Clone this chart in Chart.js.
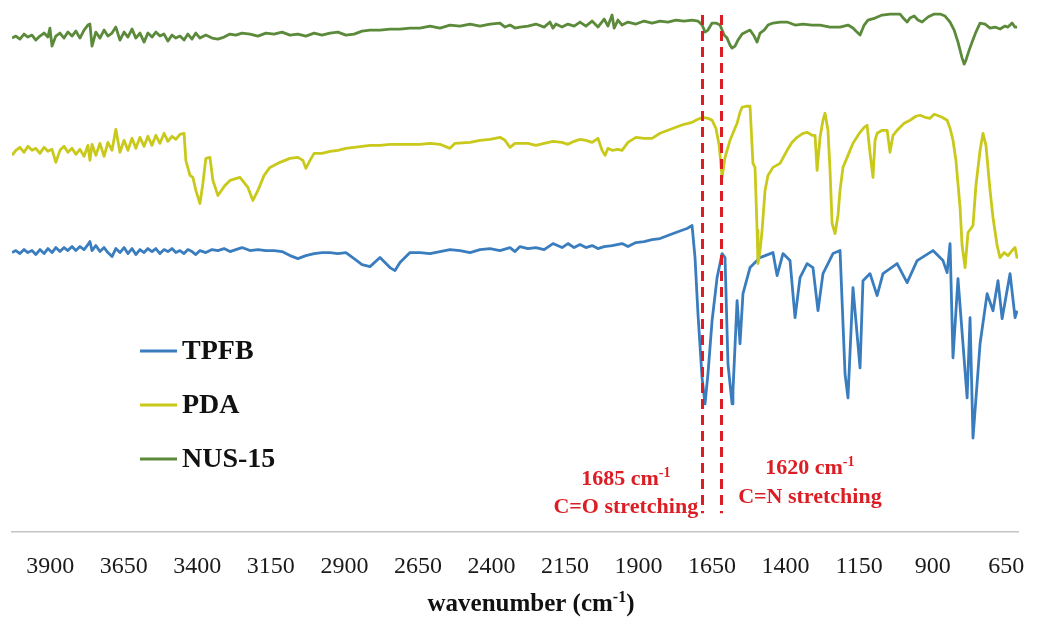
<!DOCTYPE html>
<html>
<head>
<meta charset="utf-8">
<title>FTIR spectra</title>
<script src="https://cdn.jsdelivr.net/npm/chart.js@4.4.1/dist/chart.umd.min.js"></script>
<style>
    html, body { margin: 0; padding: 0; background: #ffffff; }
    #wrap { width: 1038px; height: 619px; position: relative; }
</style>
</head>
<body>
<div id="wrap"><canvas id="espectro"></canvas></div>
<script>
// x ticks shown under the axis (cm-1)
const xTicks = [3900, 3650, 3400, 3150, 2900, 2650, 2400, 2150, 1900, 1650, 1400, 1150, 900, 650];

// TPFB, offset transmittance (a.u.)
const tpfbWavenumber = [4030, 4017, 4003, 3989, 3976, 3962, 3949, 3935, 3921, 3908, 3894, 3881, 3867, 3853, 3840, 3826, 3813, 3799, 3785, 3772, 3765, 3758, 3745, 3731, 3717, 3704, 3690, 3677, 3663, 3649, 3636, 3622, 3609, 3595, 3581, 3568, 3554, 3541, 3527, 3513, 3500, 3486, 3473, 3459, 3445, 3432, 3418, 3405, 3391, 3371, 3350, 3330, 3309, 3289, 3269, 3248, 3221, 3194, 3167, 3139, 3112, 3085, 3058, 3031, 3003, 2976, 2949, 2922, 2895, 2867, 2840, 2813, 2779, 2745, 2728, 2711, 2677, 2643, 2609, 2575, 2541, 2507, 2473, 2439, 2405, 2371, 2337, 2320, 2303, 2276, 2249, 2221, 2191, 2160, 2140, 2119, 2099, 2079, 2058, 2038, 2017, 1990, 1956, 1936, 1909, 1881, 1854, 1827, 1800, 1773, 1745, 1735, 1718, 1708, 1698, 1684, 1674, 1664, 1650, 1633, 1616, 1606, 1596, 1582, 1579, 1565, 1555, 1545, 1521, 1487, 1443, 1429, 1409, 1385, 1368, 1351, 1327, 1307, 1290, 1273, 1239, 1215, 1198, 1188, 1171, 1147, 1137, 1113, 1089, 1069, 1021, 987, 953, 899, 865, 851, 841, 831, 814, 783, 773, 763, 739, 715, 695, 678, 664, 637, 620, 613];
const tpfbSignal = [279, 281, 278, 282, 279, 281, 277, 282, 278, 283, 279, 284, 280, 284, 281, 285, 281, 285, 282, 287, 290, 281, 286, 280, 284, 279, 275, 283, 279, 284, 278, 283, 277, 282, 279, 283, 280, 283, 278, 282, 280, 283, 279, 281, 278, 282, 280, 277, 281, 279, 282, 281, 283, 280, 282, 284, 281, 282, 281, 281, 280, 276, 273, 276, 278, 279, 279, 278, 279, 273, 267, 265, 274, 264, 261, 269, 279, 279, 278, 280, 282, 281, 279, 282, 283, 281, 284, 280, 285, 283, 284, 282, 288, 284, 288, 284, 287, 284, 286, 283, 285, 286, 288, 285, 289, 290, 292, 293, 296, 299, 302, 303, 306, 274, 218, 154, 128, 158, 211, 254, 278, 274, 168, 128, 141, 231, 188, 238, 264, 274, 279, 256, 278, 271, 214, 254, 268, 264, 221, 258, 278, 281, 158, 134, 244, 164, 251, 258, 236, 258, 268, 249, 271, 281, 271, 259, 288, 174, 253, 134, 214, 94, 188, 238, 221, 251, 213, 258, 214, 221];

// PDA
const pdaWavenumber = [4030, 4017, 4003, 3989, 3976, 3962, 3949, 3935, 3921, 3908, 3894, 3881, 3867, 3853, 3840, 3826, 3813, 3799, 3785, 3772, 3765, 3758, 3745, 3731, 3717, 3704, 3690, 3677, 3663, 3649, 3636, 3622, 3609, 3595, 3581, 3568, 3554, 3541, 3527, 3513, 3500, 3486, 3473, 3459, 3445, 3439, 3425, 3415, 3405, 3391, 3381, 3371, 3357, 3347, 3330, 3306, 3289, 3255, 3228, 3211, 3194, 3173, 3153, 3119, 3085, 3058, 3041, 3031, 3017, 3003, 2976, 2949, 2922, 2895, 2867, 2840, 2813, 2779, 2745, 2711, 2643, 2609, 2575, 2541, 2524, 2473, 2439, 2405, 2371, 2354, 2337, 2320, 2276, 2249, 2221, 2191, 2160, 2140, 2119, 2099, 2079, 2058, 2038, 2024, 2014, 2004, 1990, 1970, 1956, 1936, 1909, 1881, 1854, 1827, 1800, 1773, 1745, 1718, 1698, 1681, 1664, 1650, 1637, 1626, 1616, 1606, 1589, 1575, 1565, 1555, 1548, 1535, 1521, 1511, 1504, 1497, 1494, 1487, 1480, 1470, 1460, 1443, 1419, 1395, 1378, 1361, 1341, 1327, 1310, 1300, 1293, 1283, 1273, 1266, 1256, 1249, 1242, 1232, 1222, 1215, 1205, 1188, 1171, 1147, 1133, 1123, 1113, 1103, 1096, 1089, 1072, 1055, 1045, 1035, 1021, 997, 977, 957, 943, 926, 909, 895, 885, 868, 851, 841, 831, 821, 807, 800, 790, 780, 770, 763, 753, 739, 729, 719, 705, 695, 681, 671, 657, 644, 630, 620, 613];
const pdaSignal = [376, 381, 384, 379, 385, 381, 383, 378, 384, 380, 382, 369, 381, 385, 379, 383, 377, 382, 375, 386, 371, 387, 376, 388, 375, 389, 381, 402, 379, 391, 381, 393, 383, 394, 385, 395, 386, 396, 388, 398, 390, 395, 392, 397, 398, 371, 356, 354, 341, 328, 348, 373, 374, 351, 336, 346, 351, 354, 344, 331, 341, 356, 364, 369, 373, 374, 371, 363, 371, 378, 378, 380, 381, 383, 384, 385, 386, 386, 387, 387, 387, 388, 387, 383, 388, 389, 391, 392, 394, 391, 384, 388, 388, 386, 388, 390, 389, 387, 390, 392, 391, 389, 393, 381, 376, 383, 381, 382, 381, 389, 394, 393, 393, 398, 401, 404, 407, 409, 412, 414, 413, 411, 403, 386, 354, 374, 391, 401, 408, 419, 424, 425, 425, 368, 364, 301, 268, 281, 301, 341, 356, 364, 368, 381, 389, 394, 398, 399, 396, 396, 361, 394, 411, 418, 401, 361, 308, 298, 316, 341, 364, 376, 388, 399, 404, 406, 378, 354, 391, 398, 401, 401, 379, 396, 401, 408, 411, 415, 416, 414, 413, 417, 416, 414, 411, 403, 391, 371, 324, 286, 264, 299, 303, 306, 346, 381, 398, 386, 341, 314, 286, 274, 279, 276, 281, 284, 273];

// NUS-15
const nusWavenumber = [4030, 4017, 4003, 3989, 3976, 3962, 3949, 3935, 3921, 3908, 3901, 3894, 3881, 3867, 3853, 3840, 3826, 3813, 3799, 3785, 3772, 3765, 3758, 3745, 3731, 3717, 3704, 3690, 3677, 3663, 3649, 3636, 3622, 3609, 3595, 3581, 3568, 3554, 3541, 3527, 3513, 3500, 3486, 3473, 3459, 3445, 3432, 3418, 3405, 3391, 3371, 3350, 3330, 3309, 3289, 3269, 3248, 3221, 3194, 3167, 3139, 3112, 3085, 3058, 3031, 3003, 2976, 2949, 2922, 2895, 2867, 2840, 2813, 2779, 2745, 2711, 2677, 2643, 2609, 2575, 2541, 2507, 2473, 2439, 2405, 2371, 2354, 2337, 2320, 2303, 2276, 2249, 2221, 2201, 2191, 2181, 2160, 2140, 2119, 2099, 2079, 2058, 2038, 2017, 2004, 1990, 1983, 1970, 1956, 1936, 1909, 1881, 1854, 1827, 1800, 1773, 1745, 1718, 1698, 1684, 1674, 1664, 1650, 1637, 1623, 1609, 1599, 1589, 1582, 1572, 1562, 1548, 1535, 1521, 1507, 1497, 1487, 1473, 1460, 1443, 1419, 1395, 1368, 1341, 1310, 1283, 1249, 1215, 1188, 1171, 1161, 1147, 1133, 1120, 1096, 1072, 1045, 1025, 1011, 997, 987, 977, 963, 950, 936, 916, 895, 875, 858, 841, 827, 814, 800, 793, 787, 776, 766, 753, 739, 722, 705, 688, 671, 654, 644, 630, 620, 613];
const nusSignal = [493, 495, 492, 497, 494, 496, 491, 495, 498, 494, 503, 485, 495, 498, 493, 499, 495, 500, 493, 501, 506, 507, 485, 499, 493, 501, 495, 498, 504, 491, 499, 494, 502, 493, 498, 489, 498, 494, 499, 495, 497, 490, 496, 493, 495, 491, 497, 492, 498, 493, 496, 493, 492, 494, 497, 496, 498, 497, 495, 498, 497, 499, 496, 497, 495, 498, 496, 498, 499, 496, 497, 500, 501, 501, 502, 502, 503, 503, 505, 503, 506, 505, 507, 505, 507, 508, 504, 506, 503, 504, 505, 507, 504, 509, 503, 507, 504, 507, 505, 509, 505, 510, 504, 512, 505, 516, 503, 511, 506, 509, 507, 510, 508, 510, 509, 511, 510, 511, 510, 506, 499, 501, 508, 508, 506, 496, 493, 486, 483, 485, 491, 497, 499, 501, 495, 489, 498, 501, 506, 508, 509, 509, 506, 507, 506, 506, 504, 504, 506, 503, 500, 496, 506, 511, 513, 516, 517, 517, 517, 512, 509, 513, 515, 511, 509, 514, 517, 517, 515, 509, 501, 489, 473, 467, 471, 481, 489, 499, 508, 507, 503, 504, 502, 505, 504, 508, 504, 504];

// marked bands
const bandWavenumbers = [1685, 1620];
const bandNotes = ['C=O stretching', 'C=N stretching'];

const corTpfb = '#3a7dbf';
const corPda = '#c9c91c';
const corNus = '#5a8a3a';
const corBanda = '#dc1e24';
const fonteSerif = '"Liberation Serif", "Times New Roman", serif';

function montarPontos(listaX, listaY) {
    return listaX.map((x, i) => ({ x: x, y: listaY[i] }));
}

// draws a string with an optional raised part, e.g. "cm" + "-1"
function textoComExpoente(ctx, partes, x, y, tamanho, alinhamento) {
    const fonteBase = 'bold ' + tamanho + 'px ' + fonteSerif;
    const fonteSup = 'bold ' + Math.round(tamanho * 0.62) + 'px ' + fonteSerif;
    let largura = 0;
    partes.forEach((p) => {
        ctx.font = p.sup ? fonteSup : fonteBase;
        largura += ctx.measureText(p.texto).width;
    });
    let cursor = x;
    if (alinhamento === 'center') cursor = x - largura / 2;
    if (alinhamento === 'right') cursor = x - largura;
    ctx.textAlign = 'left';
    ctx.textBaseline = 'alphabetic';
    partes.forEach((p) => {
        ctx.font = p.sup ? fonteSup : fonteBase;
        ctx.fillText(p.texto, cursor, p.sup ? y - tamanho * 0.38 : y);
        cursor += ctx.measureText(p.texto).width;
    });
}

const pluginBandas = {
    id: 'bandas',
    afterDatasetsDraw(chart, args, opts) {
        const ctx = chart.ctx;
        const escalaX = chart.scales.x;
        const escalaY = chart.scales.y;
        const topo = escalaY.getPixelForValue(opts.yTop);
        const base = escalaY.getPixelForValue(opts.yBottom);
        ctx.save();
        ctx.strokeStyle = corBanda;
        ctx.fillStyle = corBanda;
        ctx.lineWidth = 3;
        ctx.setLineDash([10, 6]);
        bandWavenumbers.forEach((w) => {
            const px = Math.round(escalaX.getPixelForValue(w)) + 0.5;
            ctx.beginPath();
            ctx.moveTo(px, topo);
            ctx.lineTo(px, base);
            ctx.stroke();
        });
        ctx.setLineDash([]);
        bandWavenumbers.forEach((w, i) => {
            const px = escalaX.getPixelForValue(w);
            const rotulo = opts.labels[i];
            const cx = px + rotulo.dx;
            textoComExpoente(ctx, [{ texto: w + ' cm' }, { texto: '-1', sup: true }], cx, rotulo.y1, 22, 'center');
            textoComExpoente(ctx, [{ texto: bandNotes[i] }], cx, rotulo.y2, 22, 'center');
        });
        ctx.restore();
    }
};

const pluginLegenda = {
    id: 'legendaLateral',
    afterDraw(chart, args, opts) {
        const ctx = chart.ctx;
        ctx.save();
        chart.data.datasets.forEach((ds, i) => {
            const y = opts.y0 + i * opts.gap;
            ctx.strokeStyle = ds.borderColor;
            ctx.lineWidth = 3;
            ctx.beginPath();
            ctx.moveTo(opts.x, y);
            ctx.lineTo(opts.x + 37, y);
            ctx.stroke();
            ctx.fillStyle = '#111111';
            ctx.font = 'bold 28px ' + fonteSerif;
            ctx.textAlign = 'left';
            ctx.textBaseline = 'middle';
            ctx.fillText(ds.label, opts.x + 42, y + 1);
        });
        ctx.restore();
    }
};

const pluginTituloX = {
    id: 'tituloX',
    afterDraw(chart, args, opts) {
        const ctx = chart.ctx;
        ctx.save();
        ctx.fillStyle = '#111111';
        textoComExpoente(ctx, [{ texto: 'wavenumber (cm' }, { texto: '-1', sup: true }, { texto: ')' }], opts.x, opts.y, 25, 'center');
        ctx.restore();
    }
};

const canvas = document.getElementById('espectro');
const contexto = canvas.getContext('2d');

new Chart(contexto, {
    type: 'line',
    data: {
        datasets: [
            {
                label: 'TPFB',
                data: montarPontos(tpfbWavenumber, tpfbSignal),
                borderColor: corTpfb,
                borderWidth: 2.8,
                order: 3
            },
            {
                label: 'PDA',
                data: montarPontos(pdaWavenumber, pdaSignal),
                borderColor: corPda,
                borderWidth: 2.8,
                order: 2
            },
            {
                label: 'NUS-15',
                data: montarPontos(nusWavenumber, nusSignal),
                borderColor: corNus,
                borderWidth: 2.8,
                order: 1
            }
        ]
    },
    options: {
        responsive: true,
        maintainAspectRatio: false,
        animation: false,
        layout: {
            padding: { left: 12, right: 20, top: 0, bottom: 18 }
        },
        elements: {
            point: { radius: 0 },
            line: { tension: 0, borderJoinStyle: 'round' }
        },
        scales: {
            x: {
                type: 'linear',
                reverse: true,
                min: 610,
                max: 4030,
                afterBuildTicks: (escala) => {
                    escala.ticks = xTicks.map((v) => ({ value: v }));
                },
                // the end labels may run past the plot edges
                afterFit: (escala) => {
                    escala.paddingLeft = 0;
                    escala.paddingRight = 0;
                },
                ticks: {
                    autoSkip: false,
                    maxRotation: 0,
                    padding: 20,
                    color: '#1a1a1a',
                    font: { family: fonteSerif, size: 24 },
                    callback: (valor) => String(valor)
                },
                grid: { display: false, drawTicks: false },
                border: { display: true, color: '#c4c4c4', width: 1.5 }
            },
            y: {
                display: false,
                min: 0,
                max: 531
            }
        },
        plugins: {
            legend: { display: false },
            tooltip: { enabled: false },
            bandas: {
                yTop: 516,
                yBottom: 19,
                labels: [
                    { dx: -76, y1: 485, y2: 513 },
                    { dx: 89, y1: 474, y2: 503 }
                ]
            },
            legendaLateral: { x: 140, y0: 351, gap: 54 },
            tituloX: { x: 531, y: 611 }
        }
    },
    plugins: [pluginBandas, pluginLegenda, pluginTituloX]
});
</script>
</body>
</html>
